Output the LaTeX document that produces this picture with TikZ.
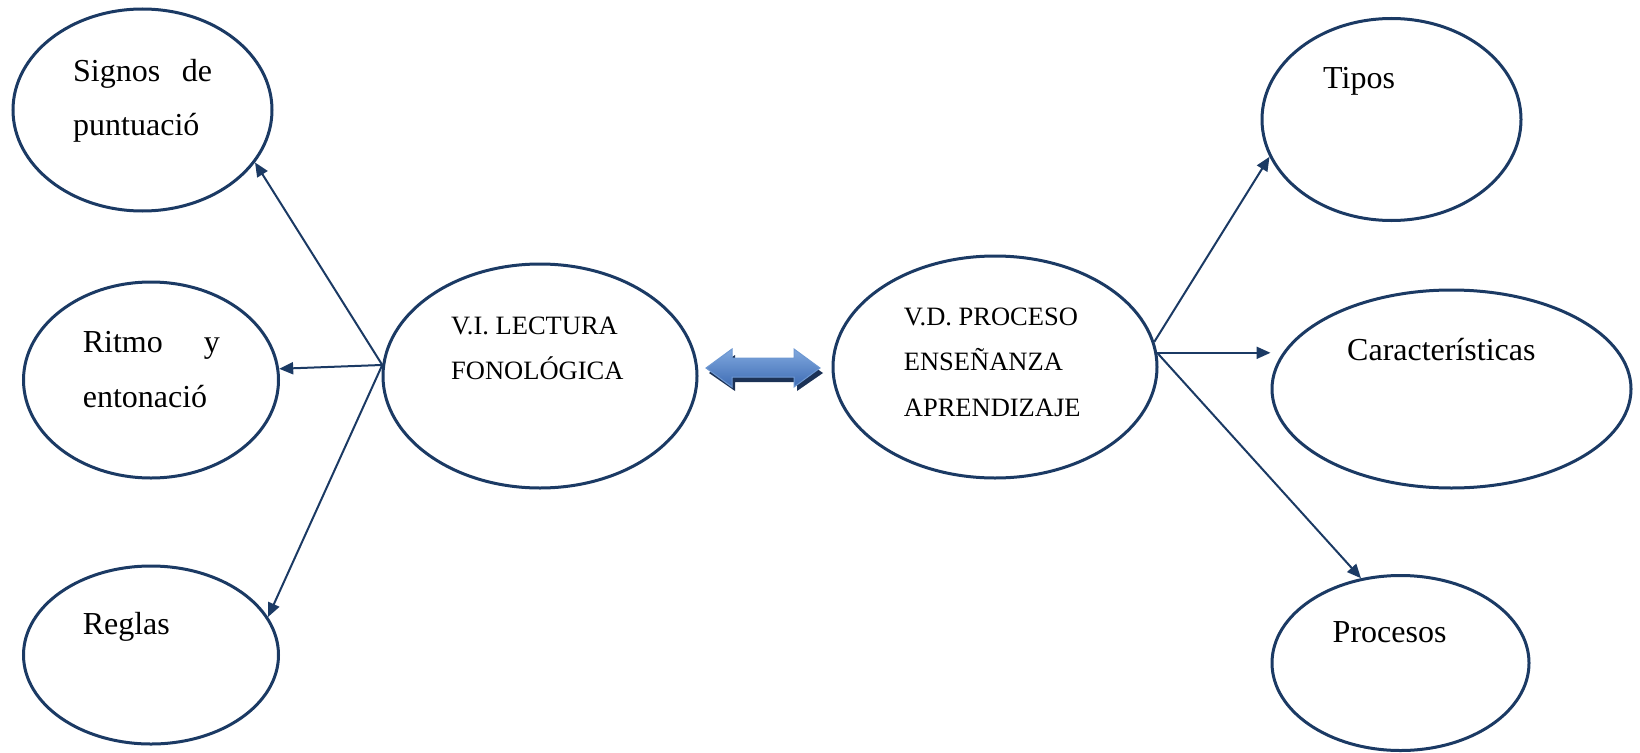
\documentclass[tikz,border=0pt]{standalone}
\usepackage{fontspec}
\setmainfont{Liberation Serif}
\usetikzlibrary{arrows.meta,shapes.geometric}
\definecolor{navy}{RGB}{27,58,100}
\definecolor{arrtop}{RGB}{128,168,222}
\definecolor{arrbot}{RGB}{62,108,180}
\definecolor{arredge}{RGB}{110,152,210}
\definecolor{arrshadow}{RGB}{28,50,86}
\begin{document}
\begin{tikzpicture}[x=1pt,y=-1pt,
  ell/.style={draw=navy, line width=3pt, ellipse, inner sep=0pt},
  conn/.style={draw=navy, line width=2pt, -{Triangle[length=14pt,width=12pt]}},
  big/.style={anchor=base west, inner sep=0pt, font=\fontsize{32}{38}\selectfont},
  small/.style={anchor=base west, inner sep=0pt, font=\fontsize{26.5}{32}\selectfont}]
\useasboundingbox[fill=white] (0,0) rectangle (1640,752);

% ellipses
\node[ell, minimum width=259pt, minimum height=202pt] (sig) at (142.5,110) {};
\node[ell, minimum width=255pt, minimum height=196pt] (rit) at (151,380) {};
\node[ell, minimum width=255pt, minimum height=178pt] (reg) at (151,655) {};
\node[ell, minimum width=314pt, minimum height=224pt] (vi) at (540,376) {};
\node[ell, minimum width=324pt, minimum height=222pt] (vd) at (995,367) {};
\node[ell, minimum width=259pt, minimum height=202pt] (tip) at (1391.5,119.5) {};
\node[ell, minimum width=359pt, minimum height=198pt] (car) at (1451.5,389) {};
\node[ell, minimum width=257pt, minimum height=175pt] (pro) at (1400.5,663) {};

% texts
\node[big] (t1a) at (73,81.5) {\makebox[139pt][s]{Signos de}};
\node[big] (t1b) at (73,135.5) {puntuació};
\node[big] (t2a) at (82.6,352.5) {\makebox[137pt][s]{Ritmo y}};
\node[big] (t2b) at (82.6,407.5) {entonació};
\node[big] (t3) at (82.6,634) {Reglas};
\node[small] (t4a) at (451,334.5) {V.I. LECTURA};
\node[small] (t4b) at (451,379.5) {FONOLÓGICA};
\node[small] (t5a) at (903.7,325) {V.D. PROCESO};
\node[small] (t5b) at (903.7,370.5) {ENSEÑANZA};
\node[small] (t5c) at (903.7,416) {APRENDIZAJE};
\node[big] (t6) at (1323,88.7) {Tipos};
\node[big] (t7) at (1347,360.7) {Características};
\node[big] (t8) at (1332.5,642.7) {Procesos};

% connectors
\draw[conn] (vi.176) -- (sig.-25);
\draw[conn] (vi.176) -- (rit.5);
\draw[conn] (vi.176) -- (reg.18);
\draw[conn] (vd.9) -- (tip.197);
\draw[conn] (vd.5) -- (vd.5 -| car.west);
\draw[conn] (vd.5) -- (pro.115.5);

% double arrow between the two variables
\fill[arrshadow] (709,373) -- (735,355) -- (735,364) -- (797,364) -- (797,355) -- (823,373)
  -- (797,391) -- (797,382) -- (735,382) -- (735,391) -- cycle;
\shade[top color=arrtop, bottom color=arrbot, draw=arredge, line width=1pt]
  (706,368) -- (732,349) -- (732,358) -- (794,358) -- (794,349) -- (820,368)
  -- (794,387) -- (794,377) -- (732,377) -- (732,387) -- cycle;
\end{tikzpicture}
\end{document}
